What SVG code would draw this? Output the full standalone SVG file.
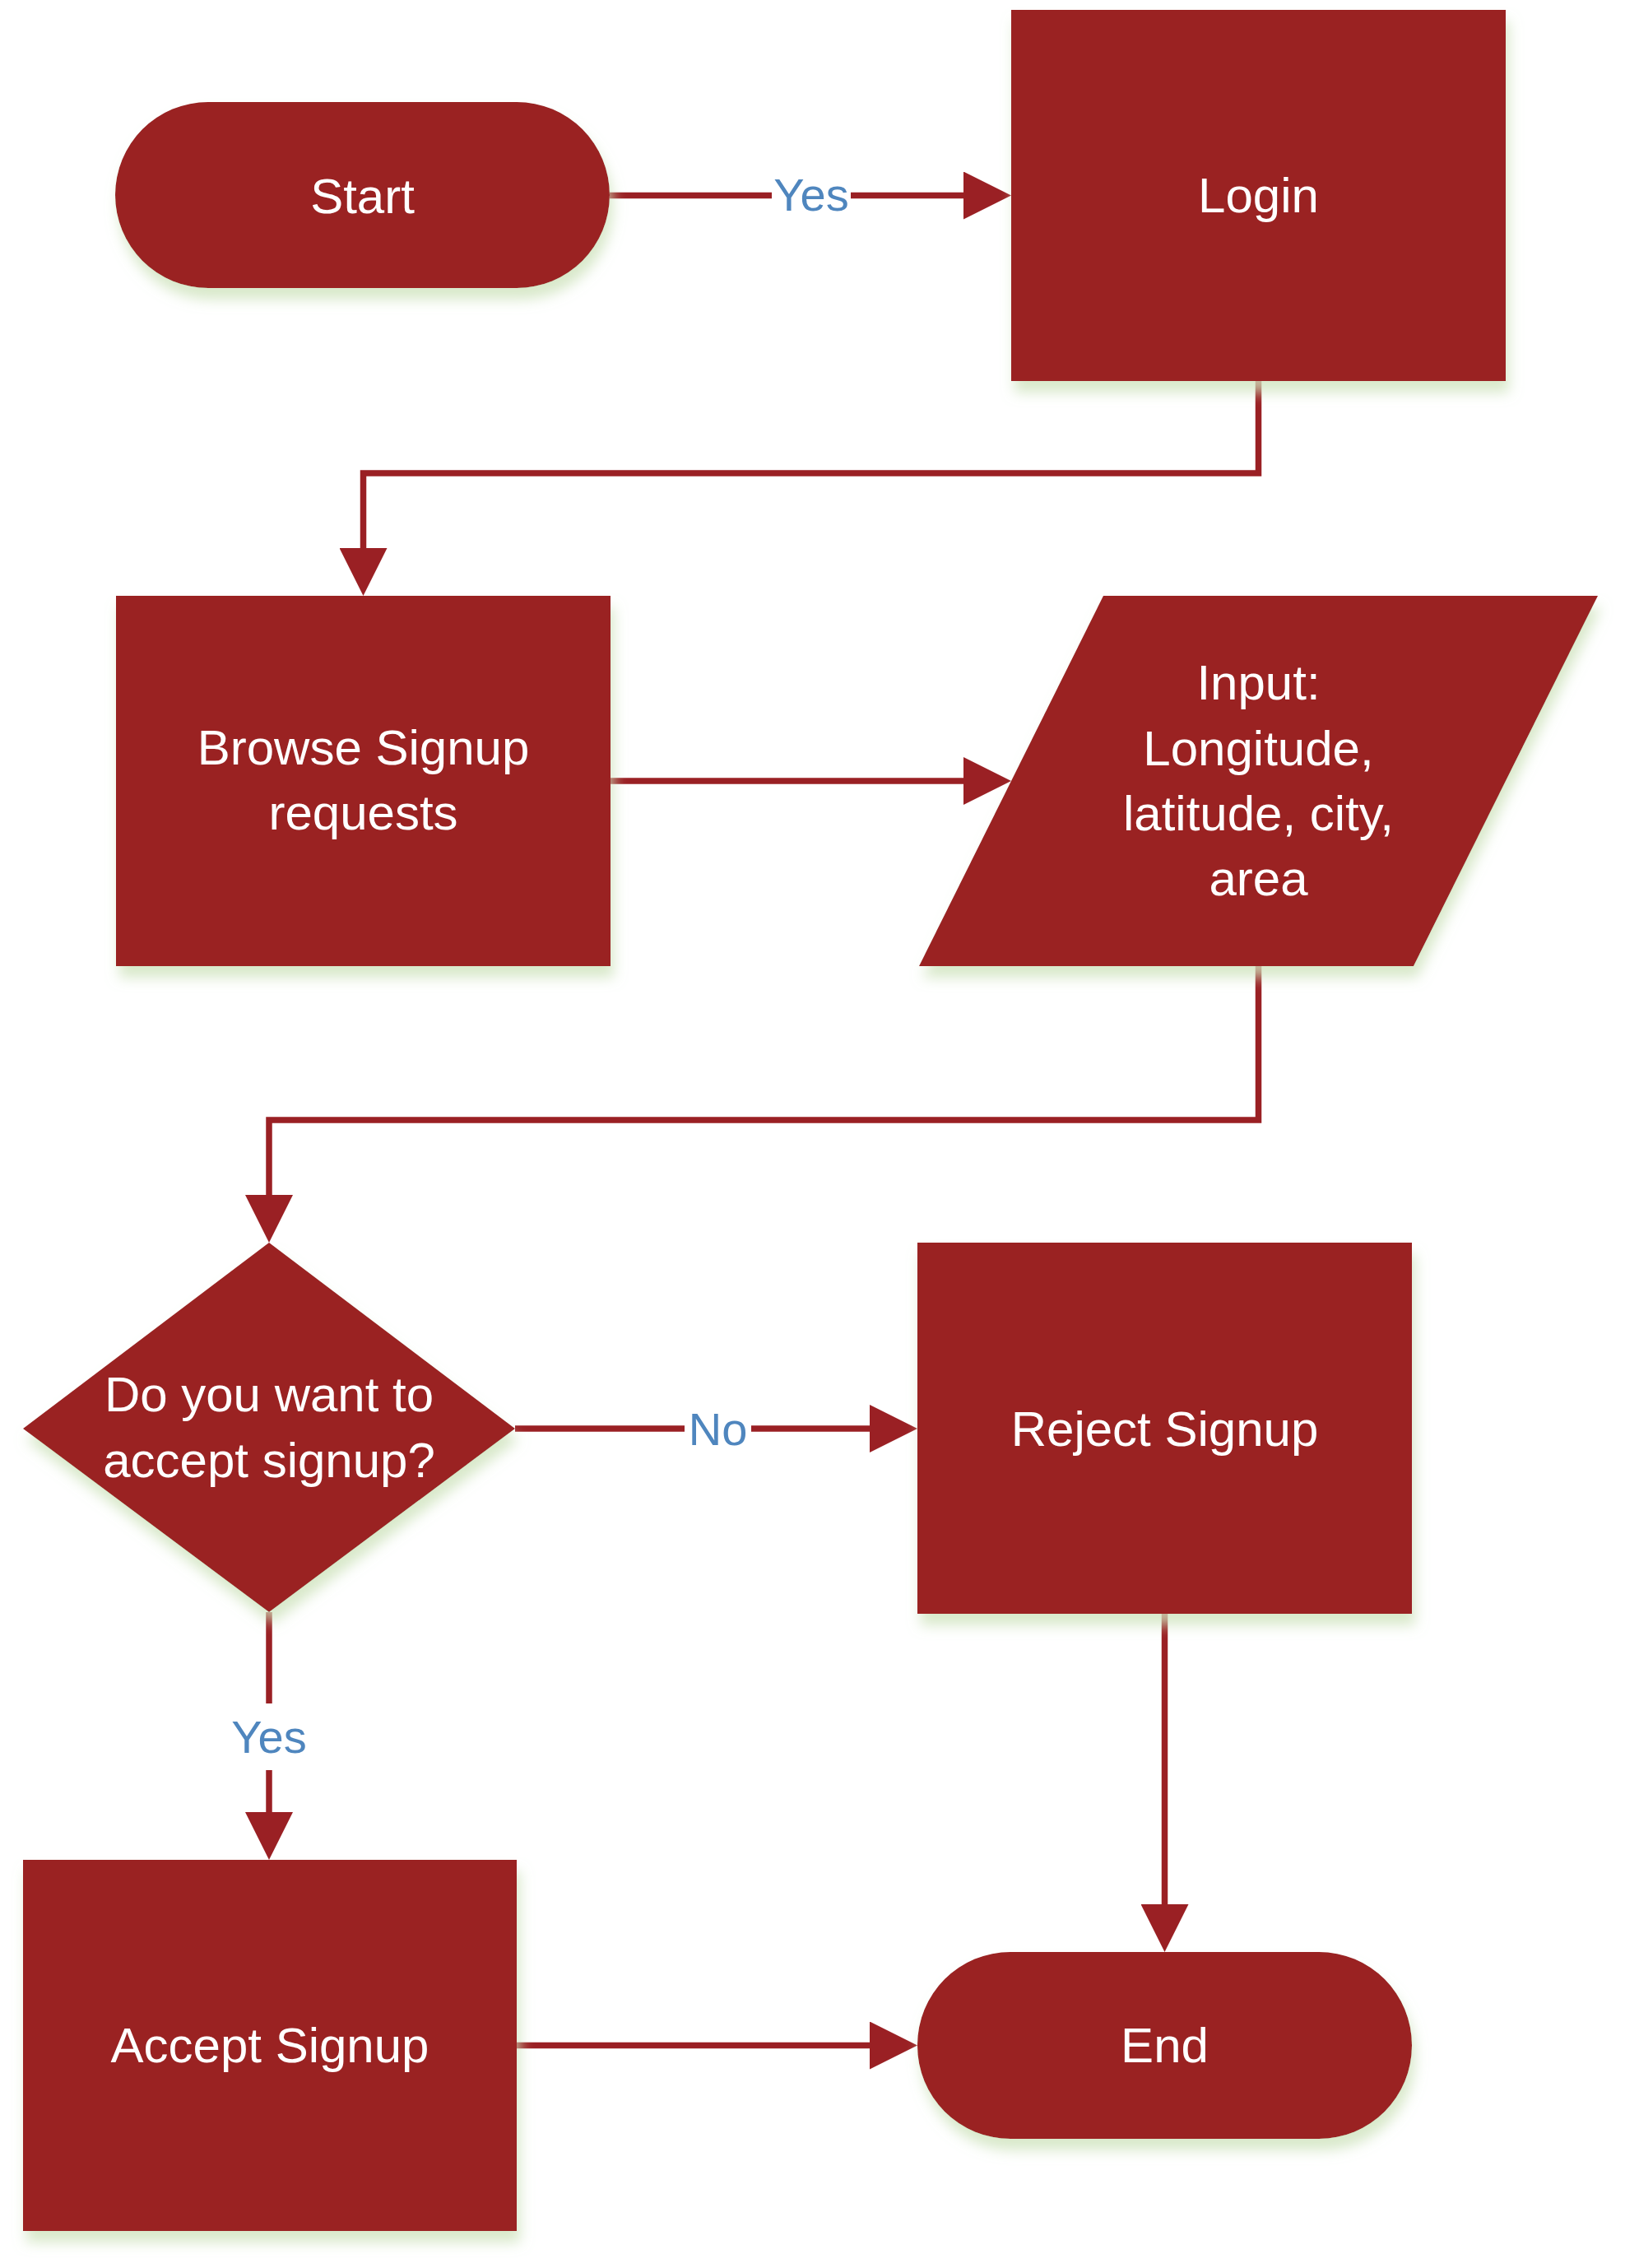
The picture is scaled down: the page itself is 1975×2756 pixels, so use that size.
<svg xmlns="http://www.w3.org/2000/svg" width="1975" height="2756" viewBox="0 0 1975 2756">
<style>
.node{fill:#9A2024;filter:url(#sh);}
.t{font-family:"Liberation Sans",Arial,sans-serif;font-size:60px;fill:#FFFFFF;text-anchor:middle;}
.lbl{font-family:"Liberation Sans",Arial,sans-serif;font-size:56px;fill:#4F86BE;text-anchor:middle;}
.ln{fill:none;stroke:#9A2024;stroke-width:7.5;stroke-linejoin:miter;marker-end:url(#ah);}
.bg{fill:#FFFFFF;}
</style>
<defs>
<filter id="sh" x="-10%" y="-10%" width="130%" height="130%">
<feGaussianBlur in="SourceAlpha" stdDeviation="8" result="b"/>
<feOffset in="b" dx="4" dy="14" result="o"/>
<feFlood flood-color="#cfe3bd" flood-opacity="0.8"/>
<feComposite in2="o" operator="in" result="s"/>
<feMerge><feMergeNode in="s"/><feMergeNode in="SourceGraphic"/></feMerge>
</filter>
<marker id="ah" markerUnits="userSpaceOnUse" markerWidth="58" markerHeight="58" refX="8" refY="29" orient="auto">
<path d="M0,0 L58,29 L0,58 Z" fill="#9A2024"/>
</marker>
</defs>
<rect width="1975" height="2756" fill="#FFFFFF"/>

<g id="connectors">
<path class="ln" d="M741,237.5 H1179"/>
<path class="ln" d="M1529.5,463 V575 H441.5 V674"/>
<path class="ln" d="M742,949 H1179"/>
<path class="ln" d="M1529.5,1174 V1361 H327 V1460"/>
<path class="ln" d="M626,1736 H1065"/>
<path class="ln" d="M327,1959 V2210"/>
<path class="ln" d="M1415.5,1961 V2322"/>
<path class="ln" d="M628,2485.5 H1065"/>
<rect class="bg" x="938" y="205" width="96" height="64"/>
<text class="lbl" x="986" y="256">Yes</text>
<rect class="bg" x="832" y="1705" width="81" height="64"/>
<text class="lbl" x="872.5" y="1756">No</text>
<rect class="bg" x="280" y="2070" width="94" height="81"/>
<text class="lbl" x="327" y="2130">Yes</text>
</g>

<g id="start">
<rect class="node" x="140" y="124" width="601" height="226" rx="113" ry="113"/>
<text class="t" x="440.5" y="259">Start</text>
</g>
<g id="login">
<rect class="node" x="1229" y="12" width="601" height="451"/>
<text class="t" x="1529.5" y="258">Login</text>
</g>
<g id="browse">
<rect class="node" x="141" y="724" width="601" height="450"/>
<text class="t" x="441.5" y="929">Browse Signup</text>
<text class="t" x="441.5" y="1008">requests</text>
</g>
<g id="input">
<polygon class="node" points="1341,724 1942,724 1718,1174 1117,1174"/>
<text class="t" x="1529.5" y="850">Input:</text>
<text class="t" x="1529.5" y="930">Longitude,</text>
<text class="t" x="1529.5" y="1009">latitude, city,</text>
<text class="t" x="1529.5" y="1088">area</text>
</g>
<g id="decision">
<polygon class="node" points="327,1510 626,1736 327,1959 28,1736"/>
<text class="t" x="327" y="1715">Do you want to</text>
<text class="t" x="327" y="1795">accept signup?</text>
</g>
<g id="reject">
<rect class="node" x="1115" y="1510" width="601" height="451"/>
<text class="t" x="1415.5" y="1757">Reject Signup</text>
</g>
<g id="accept">
<rect class="node" x="28" y="2260" width="600" height="451"/>
<text class="t" x="328" y="2506">Accept Signup</text>
</g>
<g id="end">
<rect class="node" x="1115" y="2372" width="601" height="227" rx="113" ry="113"/>
<text class="t" x="1415.5" y="2506">End</text>
</g>
</svg>
